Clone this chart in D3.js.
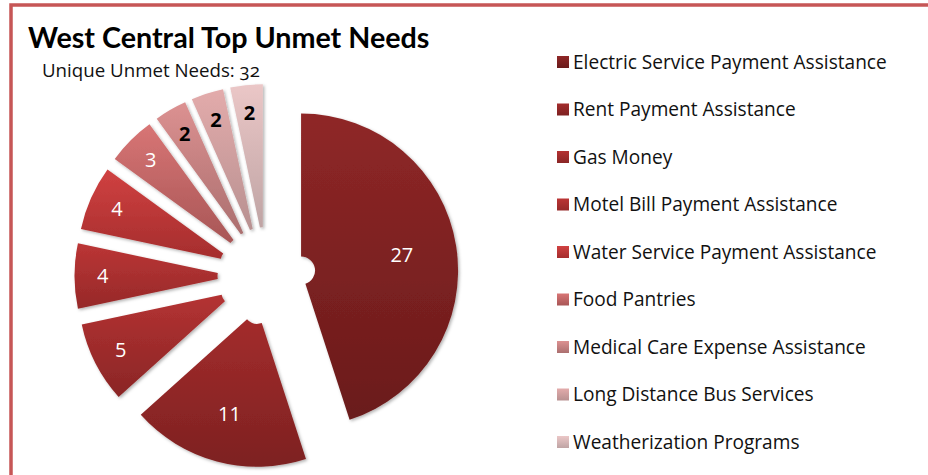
<!DOCTYPE html>
<html><head><meta charset="utf-8">
<script src="https://cdn.jsdelivr.net/npm/d3@7"></script>
<style>
html,body{margin:0;padding:0;background:#fff;overflow:hidden}
svg{display:block}
text{font-family:Lato,"Open Sans",sans-serif}
</style></head>
<body>
<script>
const categories = [
  "Electric Service Payment Assistance",
  "Rent Payment Assistance",
  "Gas Money",
  "Motel Bill Payment Assistance",
  "Water Service Payment Assistance",
  "Food Pantries",
  "Medical Care Expense Assistance",
  "Long Distance Bus Services",
  "Weatherization Programs"
];
const values = [27, 11, 5, 4, 4, 3, 2, 2, 2];
const topColors = ["#8f2727","#a32c2c","#b43232","#bb3535","#d04141","#d87575","#dc9191","#e3abab","#ebc7c7"];
const bottomColors = ["#6a1b1b","#7d2121","#8a2626","#962929","#a52d2d","#a85656","#ab6f6f","#b89191","#bfa4a4"];
const titleText = "West Central Top Unmet Needs";
const subtitleText = "Unique Unmet Needs: 32";

const W = 928, H = 475;
const svg = d3.select("body").append("svg").attr("width", W).attr("height", H);
const defs = svg.append("defs");

values.forEach((v, i) => {
  const g = defs.append("linearGradient").attr("id", "g" + i)
    .attr("x1", 0).attr("y1", 0).attr("x2", 0).attr("y2", 1);
  g.append("stop").attr("offset", "0%").attr("stop-color", topColors[i]);
  g.append("stop").attr("offset", "100%").attr("stop-color", bottomColors[i]);
});
const f = defs.append("filter").attr("id", "sh").attr("x", "-20%").attr("y", "-20%").attr("width", "140%").attr("height", "140%");
f.append("feDropShadow").attr("dx", 1.5).attr("dy", 1.5).attr("stdDeviation", 1.5)
  .attr("flood-color", "#000").attr("flood-opacity", 0.3);

svg.append("rect").attr("x", 11).attr("y", 5).attr("width", 940).attr("height", 500)
  .attr("fill", "none").attr("stroke", "#c65656").attr("stroke-width", 3.5);

svg.append("text").attr("x", 28).attr("y", 48).attr("font-size", 28.7).attr("font-weight", 700)
  .attr("fill", "#000").text(titleText);
svg.append("text").attr("x", 42).attr("y", 77).attr("font-size", 18.7)
  .style("font-family", "'Open Sans',sans-serif")
  .style("font-variant-numeric", "oldstyle-nums").attr("fill", "#111").text(subtitleText);

const cx = 266.5, cy = 276, R = 157, explode = 35, innerR = 14;
const pie = d3.pie().sort(null).value(d => d).startAngle(0).endAngle(2 * Math.PI);
const arcs = pie(values);
const arc = d3.arc().innerRadius(innerR).outerRadius(R);

const pg = svg.append("g").attr("transform", `translate(${cx},${cy})`);
const slices = pg.selectAll("g.slice").data(arcs).join("g").attr("class", "slice")
  .attr("transform", d => {
    const m = (d.startAngle + d.endAngle) / 2;
    return `translate(${Math.sin(m) * explode},${-Math.cos(m) * explode})`;
  });
slices.append("path").attr("d", arc).attr("fill", (d, i) => `url(#g${i})`).attr("filter", "url(#sh)");
slices.append("text")
  .attr("transform", d => {
    const m = (d.startAngle + d.endAngle) / 2;
    const span = d.endAngle - d.startAngle;
    const lr = R * (span > 1.5 ? 0.65 : span > 1 ? 0.69 : 0.82);
    return `translate(${Math.sin(m) * lr},${-Math.cos(m) * lr})`;
  })
  .attr("text-anchor", "middle").attr("dy", "0.35em")
  .attr("font-size", 20)
  .style("font-family", "'Open Sans',sans-serif")
  .attr("font-weight", (d, i) => d3.hsl(topColors[i]).l > 0.7 ? 700 : 400)
  .attr("fill", (d, i) => d3.hsl(topColors[i]).l > 0.7 ? "#000" : "#fff")
  .text(d => d.data);

const ly = d3.scalePoint().domain(categories).range([62, 442]);
const lg = svg.append("g");
const items = lg.selectAll("g").data(categories).join("g")
  .attr("transform", d => `translate(557,${ly(d)})`);
items.append("rect").attr("x", 0).attr("y", -6).attr("width", 12).attr("height", 12)
  .attr("fill", (d, i) => `url(#g${i})`);
items.append("text").attr("x", 16).attr("y", 6.5).attr("font-size", 19.1)
  .style("font-family", "'Open Sans',sans-serif")
  .attr("fill", "#111").text(d => d);
</script>
</body></html>
